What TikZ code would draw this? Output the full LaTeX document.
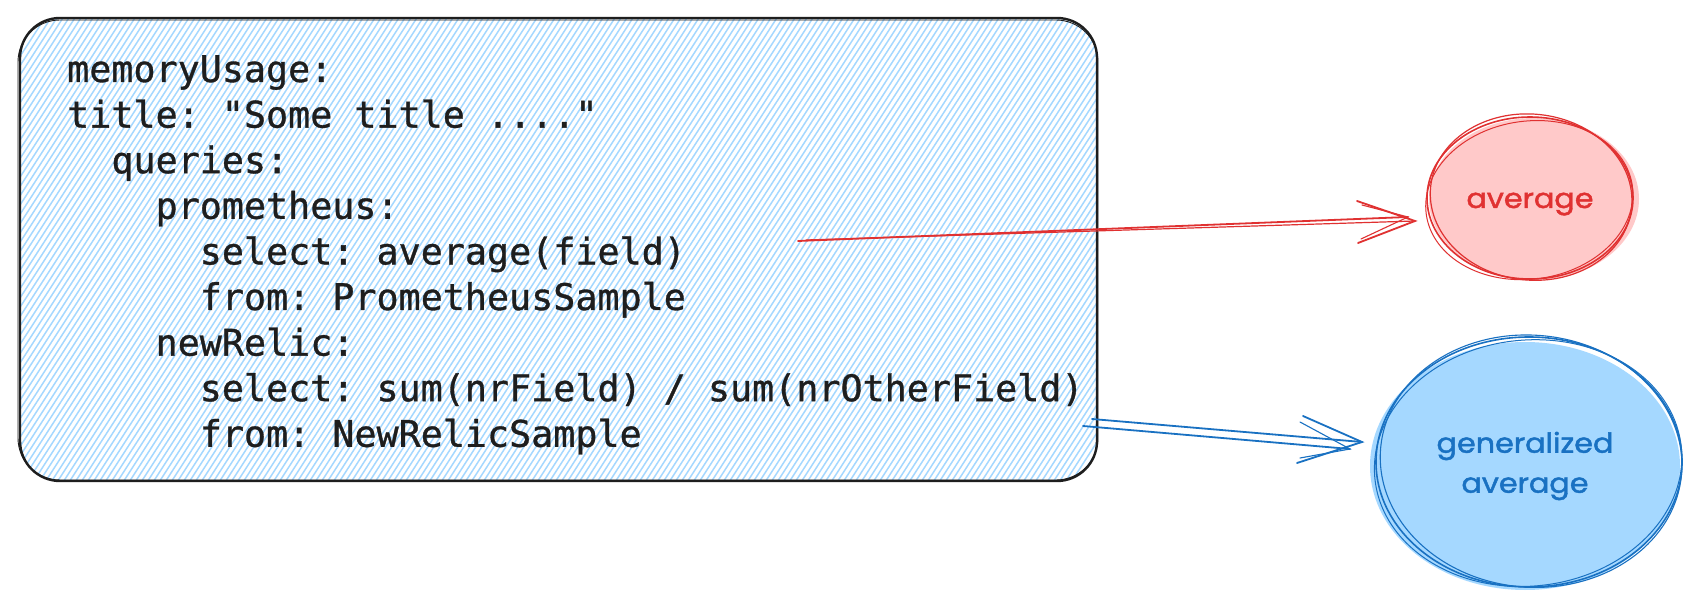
\documentclass[tikz,border=0pt]{standalone}
\usepackage{fontspec}
\setmonofont[FakeBold=0.9]{DejaVu Sans Mono}
\newfontface\handfont[FakeStretch=1.1,FakeBold=1.6]{Poppins}
\usetikzlibrary{shapes.geometric}
\definecolor{ink}{HTML}{1E1E1E}
\definecolor{hatchblue}{HTML}{A5D8FF}
\definecolor{redstroke}{HTML}{E03131}
\definecolor{redfill}{HTML}{FFC9C9}
\definecolor{bluestroke}{HTML}{1971C2}
\definecolor{bluefill}{HTML}{A5D8FF}
\begin{document}
\begin{tikzpicture}[x=1pt,y=-1pt,
  codeline/.style={anchor=base west, inner sep=0pt, text=ink,
    font=\ttfamily\fontsize{36.7}{45}\selectfont},
  hand/.style={inner sep=0pt, align=center,
    font=\handfont\fontsize{27.5}{40}\selectfont},
  hatchline/.style={draw=hatchblue, line width=1.5pt},
  boxstroke/.style={draw=ink, line width=2.4pt, rounded corners=40pt},
  boxstroke2/.style={draw=ink, line width=0.9pt, rounded corners=42pt},
  redline/.style={draw=redstroke, line width=1.8pt, line cap=round},
  blueline/.style={draw=bluestroke, line width=1.8pt, line cap=round},
  redrim/.style={draw=redstroke, line width=1.6pt},
  bluerim/.style={draw=bluestroke, line width=1.6pt}]
\useasboundingbox (0,0) rectangle (1701,609);
\fill[white] (0,0) rectangle (1701,609);

% hatched box
\begin{scope}
  \clip[rounded corners=40pt] (20,18) rectangle (1097,481);
  \foreach \x in {-320,-314,...,1100}
    \draw[hatchline] (\x,490) -- ++(310,-480);
\end{scope}
\draw[boxstroke] (20,18) rectangle (1097,481);
\draw[boxstroke2] (18,20) rectangle (1098,480);

% code text
\node[codeline] (l1) at (67,82) {memoryUsage:};
\node[codeline] (l2) at (67,127.6) {title: "Some title ...."};
\node[codeline] (l3) at (111.2,173.2) {queries:};
\node[codeline] (l4) at (155.4,218.8) {prometheus:};
\node[codeline] (l5) at (199.6,264.4) {select: average(field)};
\node[codeline] (l6) at (199.6,310) {from: PrometheusSample};
\node[codeline] (l7) at (155.4,355.6) {newRelic:};
\node[codeline] (l8) at (199.6,401.2) {select: sum(nrField) / sum(nrOtherField)};
\node[codeline] (l9) at (199.6,446.8) {from: NewRelicSample};

% red ellipse
\fill[redfill] (1534,199) ellipse [x radius=105pt, y radius=81pt];
\node[ellipse, minimum width=206pt, minimum height=162pt, inner sep=0pt] (avg) at (1530,198) {};
\draw[redrim] (1530,198) ellipse [x radius=103pt, y radius=81pt];
\draw[redrim, line width=1.2pt, rotate around={-6:(1530,198)}] (1531,197) ellipse [x radius=101pt, y radius=83pt];
\draw[redrim, line width=1pt, rotate around={8:(1530,198)}] (1529,200) ellipse [x radius=104pt, y radius=79pt];
\node[hand, text=redstroke, anchor=base] (avgtext) at (1530,208) {average};

% blue ellipse
\fill[bluefill] (1525,466) ellipse [x radius=155pt, y radius=124pt];
\node[ellipse, minimum width=306pt, minimum height=250pt, inner sep=0pt] (gavg) at (1529,462) {};
\draw[bluerim] (1529,462) ellipse [x radius=153pt, y radius=125pt];
\draw[bluerim, line width=1.1pt, rotate around={-5:(1529,462)}] (1531,461) ellipse [x radius=151pt, y radius=126pt];
\draw[bluerim, line width=1pt, rotate around={6:(1529,462)}] (1528,463) ellipse [x radius=154pt, y radius=123pt];
\node[hand, text=bluestroke] (gavgtext) at (1525,466) {generalized\\average};

% red arrow
\coordinate (rs1) at (798,241);
\coordinate (rs2) at (806,240);
\coordinate (rt) at (1415,221);
\coordinate (rt2) at (1408,217);
\coordinate (rb1) at (1357,201);
\coordinate (rb2) at (1358,243);
\coordinate (rb3) at (1362,205);
\coordinate (rb4) at (1361,239);
\draw[redline] (rs1) -- (rt2);
\draw[redline, line width=1.2pt] (rs2) -- (rt);
\draw[redline] (rb1) -- (rt) -- (rb2);
\draw[redline, line width=1.1pt] (rb3) -- (rt2) -- (rb4);

% blue arrow
\coordinate (bs1) at (1092,419);
\coordinate (bs2) at (1083,426);
\coordinate (bt) at (1362,442);
\coordinate (bt2) at (1350,449);
\coordinate (bb1) at (1303,416);
\coordinate (bb2) at (1297,463);
\coordinate (bb3) at (1300,422);
\coordinate (bb4) at (1300,458);
\draw[blueline] (bs1) -- (bt);
\draw[blueline] (bs2) -- (bt2);
\draw[blueline] (bb1) -- (bt) -- (bb2);
\draw[blueline, line width=1.1pt] (bb3) -- (bt2) -- (bb4);
\end{tikzpicture}
\end{document}
